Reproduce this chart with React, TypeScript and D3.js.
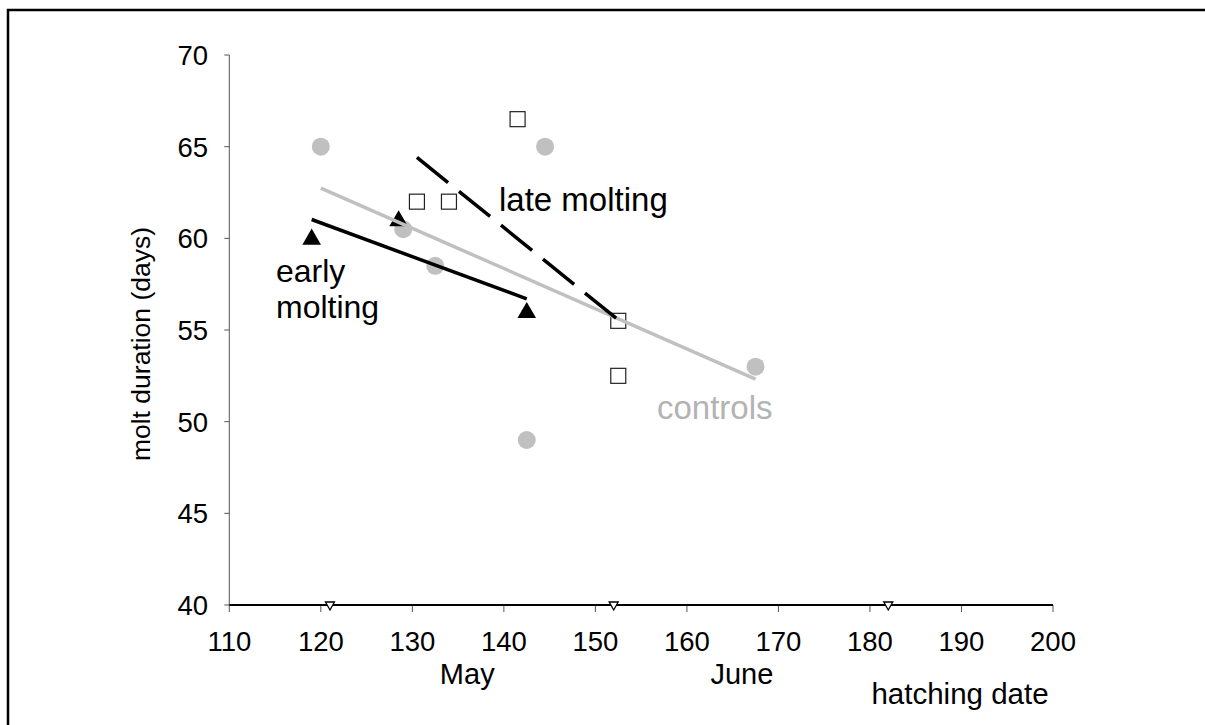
import React, { useEffect, useRef } from "react";
import * as d3 from "d3";

const controlsX = [120, 129, 132.5, 142.5, 144.5, 167.5];
const controlsY = [65, 60.5, 58.5, 49, 65, 53];
const lateX = [130.5, 134, 141.5, 152.5, 152.5];
const lateY = [62, 62, 66.5, 55.5, 52.5];
const earlyX = [119, 128.5, 142.5];
const earlyY = [60, 61, 56];
const xTicks = [110, 120, 130, 140, 150, 160, 170, 180, 190, 200];
const yTicks = [40, 45, 50, 55, 60, 65, 70];
const monthStarts = [121, 152, 182];
const monthLabels = [
  { name: "May", x: 136 },
  { name: "June", x: 166 },
];

const W = 1205;
const H = 725;
const FONT = "'Liberation Sans', Arial, Helvetica, sans-serif";

function fit(xs: number[], ys: number[]) {
  const mx = d3.mean(xs)!;
  const my = d3.mean(ys)!;
  let sxy = 0;
  let sxx = 0;
  xs.forEach((x, i) => {
    sxy += (x - mx) * (ys[i] - my);
    sxx += (x - mx) * (x - mx);
  });
  const b = sxy / sxx;
  const a = my - b * mx;
  const x0 = d3.min(xs)!;
  const x1 = d3.max(xs)!;
  return [
    [x0, a + b * x0],
    [x1, a + b * x1],
  ] as [number, number][];
}

export default function App() {
  const ref = useRef<SVGSVGElement | null>(null);

  useEffect(() => {
    document.body.style.margin = "0";
    document.body.style.overflow = "hidden";
    const svg = d3.select(ref.current);
    svg.selectAll("*").remove();

    const x = d3.scaleLinear().domain([110, 200]).range([229.3, 1053]);
    const y = d3.scaleLinear().domain([40, 70]).range([605, 55]);

    // frame (top and left edges only visible)
    svg
      .append("path")
      .attr("d", `M8,${H + 5} L8,10 L${W + 5},10`)
      .attr("fill", "none")
      .attr("stroke", "black")
      .attr("stroke-width", 2.5);

    // y axis
    const yAxis = svg.append("g");
    yAxis
      .append("line")
      .attr("x1", x(110))
      .attr("x2", x(110))
      .attr("y1", y(70))
      .attr("y2", y(40))
      .attr("stroke", "#555")
      .attr("stroke-width", 1);
    yAxis
      .selectAll("line.tick")
      .data(yTicks)
      .enter()
      .append("line")
      .attr("class", "tick")
      .attr("x1", x(110) - 5)
      .attr("x2", x(110))
      .attr("y1", (d) => y(d))
      .attr("y2", (d) => y(d))
      .attr("stroke", "#555")
      .attr("stroke-width", 1);
    yAxis
      .selectAll("text")
      .data(yTicks)
      .enter()
      .append("text")
      .attr("x", 208)
      .attr("y", (d) => y(d))
      .attr("dy", "0.36em")
      .attr("text-anchor", "end")
      .attr("font-family", FONT)
      .attr("font-size", 27.5)
      .text((d) => d);

    // x axis
    const xAxis = svg.append("g");
    xAxis
      .selectAll("line.tick")
      .data(xTicks)
      .enter()
      .append("line")
      .attr("class", "tick")
      .attr("x1", (d) => x(d))
      .attr("x2", (d) => x(d))
      .attr("y1", y(40))
      .attr("y2", y(40) + 7)
      .attr("stroke", "#555")
      .attr("stroke-width", 1);
    xAxis
      .append("line")
      .attr("x1", x(110))
      .attr("x2", x(200))
      .attr("y1", y(40))
      .attr("y2", y(40))
      .attr("stroke", "black")
      .attr("stroke-width", 2);
    xAxis
      .selectAll("text")
      .data(xTicks)
      .enter()
      .append("text")
      .attr("x", (d) => x(d))
      .attr("y", 651)
      .attr("text-anchor", "middle")
      .attr("font-family", FONT)
      .attr("font-size", 27.5)
      .text((d) => d);

    // month start markers (open inverted triangles)
    svg
      .selectAll("path.month")
      .data(monthStarts)
      .enter()
      .append("path")
      .attr("class", "month")
      .attr("d", "M-4.5,-3 L4.5,-3 L0,5 Z")
      .attr("transform", (d) => `translate(${x(d)},${y(40)})`)
      .attr("fill", "white")
      .attr("stroke", "black")
      .attr("stroke-width", 1.3);

    svg
      .selectAll("text.month")
      .data(monthLabels)
      .enter()
      .append("text")
      .attr("class", "month")
      .attr("x", (d) => x(d.x))
      .attr("y", 684)
      .attr("text-anchor", "middle")
      .attr("font-family", FONT)
      .attr("font-size", 29)
      .text((d) => d.name);

    svg
      .append("text")
      .attr("x", 960)
      .attr("y", 704)
      .attr("text-anchor", "middle")
      .attr("font-family", FONT)
      .attr("font-size", 29.5)
      .text("hatching date");

    svg
      .append("text")
      .attr("transform", `translate(150,344) rotate(-90)`)
      .attr("text-anchor", "middle")
      .attr("font-family", FONT)
      .attr("font-size", 26.5)
      .text("molt duration (days)");

    const line = d3
      .line<[number, number]>()
      .x((d) => x(d[0]))
      .y((d) => y(d[1]));

    // controls points
    const cPts = controlsX.map((v, i) => [v, controlsY[i]] as [number, number]);
    svg
      .selectAll("circle.ctrl")
      .data(cPts)
      .enter()
      .append("circle")
      .attr("class", "ctrl")
      .attr("cx", (d) => x(d[0]))
      .attr("cy", (d) => y(d[1]))
      .attr("r", 9)
      .attr("fill", "#c0c0c0");

    // early points
    const ePts = earlyX.map((v, i) => [v, earlyY[i]] as [number, number]);
    const etri = d3.symbol().type(d3.symbolTriangle).size(150);
    svg
      .selectAll("path.early")
      .data(ePts)
      .enter()
      .append("path")
      .attr("class", "early")
      .attr("d", etri() as string)
      .attr("transform", (d) => `translate(${x(d[0])},${y(d[1]) + 1})`)
      .attr("fill", "black");

    // late points
    const lPts = lateX.map((v, i) => [v, lateY[i]] as [number, number]);
    svg
      .selectAll("rect.late")
      .data(lPts)
      .enter()
      .append("rect")
      .attr("class", "late")
      .attr("x", (d) => x(d[0]) - 7.5)
      .attr("y", (d) => y(d[1]) - 7.5)
      .attr("width", 15)
      .attr("height", 15)
      .attr("fill", "white")
      .attr("stroke", "#222")
      .attr("stroke-width", 1.2);

    // regression lines
    svg
      .append("path")
      .attr("d", line(fit(controlsX, controlsY)))
      .attr("stroke", "#c0c0c0")
      .attr("stroke-width", 3.5)
      .attr("fill", "none");
    svg
      .append("path")
      .attr("d", line(fit(earlyX, earlyY)))
      .attr("stroke", "black")
      .attr("stroke-width", 3.5)
      .attr("fill", "none");
    svg
      .append("path")
      .attr("d", line(fit(lateX, lateY)))
      .attr("stroke", "black")
      .attr("stroke-width", 3.5)
      .attr("stroke-dasharray", "40,14")
      .attr("fill", "none");

    // annotations
    const ann = (t: string, ax: number, ay: number, color: string, fs = 33) =>
      svg
        .append("text")
        .attr("x", ax)
        .attr("y", ay)
        .attr("font-family", FONT)
        .attr("font-size", fs)
        .attr("fill", color)
        .text(t);
    ann("late molting", 499, 211, "black");
    ann("early", 276, 282, "black", 32);
    ann("molting", 276, 318, "black", 32);
    ann("controls", 657, 419, "#b3b3b3");
  }, []);

  return (
    <svg
      ref={ref}
      width={W}
      height={H}
      style={{
        position: "absolute",
        left: 0,
        top: 0,
        background: "white",
        display: "block",
      }}
    />
  );
}
